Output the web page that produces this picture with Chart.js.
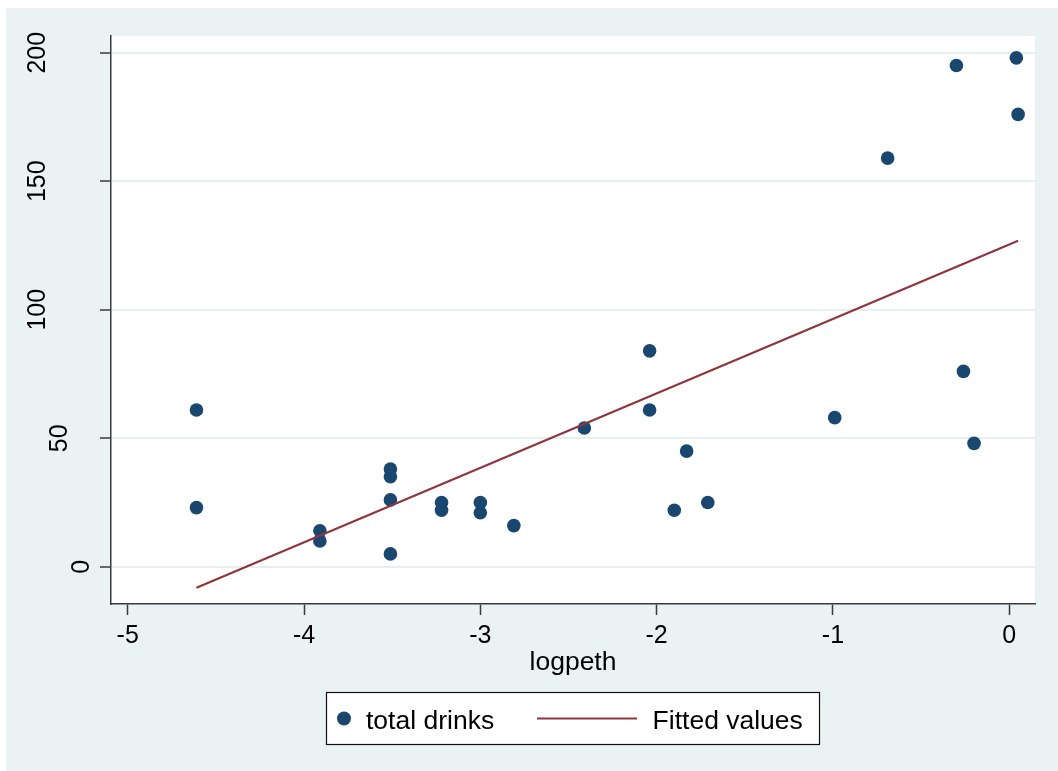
<!DOCTYPE html>
<html>
<head>
<meta charset="utf-8">
<style>
  html, body { margin: 0; padding: 0; background: #ffffff; }
  canvas { display: block; }
</style>
<script src="https://cdn.jsdelivr.net/npm/chart.js@4/dist/chart.umd.min.js"></script>
</head>
<body>
<canvas id="c" width="1058" height="771"></canvas>
<script>
// ---- data ----
const seriesLabels = ['total drinks', 'Fitted values'];
const logpeth = [-4.61, -4.61, -3.91, -3.91, -3.51, -3.51, -3.51, -3.51, -3.22, -3.22,
                 -3.00, -3.00, -2.81, -2.41, -2.04, -2.04, -1.90, -1.83, -1.71, -0.99,
                 -0.69, -0.30, -0.26, -0.20, 0.04, 0.05];
const totalDrinks = [61, 23, 14, 10, 38, 35, 26, 5, 25, 22,
                     25, 21, 16, 54, 84, 61, 22, 45, 25, 58,
                     159, 195, 76, 48, 198, 176];
const fitX = [-4.61, 0.05];
const fitY = [-8.2, 126.8];
const xTicks = [-5, -4, -3, -2, -1, 0];
const yTicks = [0, 50, 100, 150, 200];
const xTitle = 'logpeth';

const FONT = "'Liberation Sans', Arial, Helvetica, sans-serif";
const NAVY = '#1a476f';
const MAROON = '#90353b';
const BG = '#eaf2f3';
const AXIS = '#3a3a3a';

const bgPlugin = {
  id: 'bg',
  beforeDraw(chart) {
    const ctx = chart.ctx, a = chart.chartArea;
    ctx.save();
    ctx.fillStyle = '#ffffff';
    ctx.fillRect(0, 0, chart.width, chart.height);
    ctx.fillStyle = BG;
    ctx.fillRect(6, 8, chart.width - 6, chart.height - 8);
    ctx.fillStyle = '#ffffff';
    ctx.fillRect(a.left, a.top, a.right - a.left, a.bottom - a.top);
    ctx.restore();
  }
};

const yLabelPlugin = {
  id: 'ylabels',
  afterDraw(chart) {
    const ctx = chart.ctx, ys = chart.scales.y;
    ctx.save();
    ctx.fillStyle = '#000';
    ctx.font = '25px ' + FONT;
    ctx.textAlign = 'center';
    ctx.textBaseline = 'alphabetic';
    yTicks.forEach(v => {
      const s = String(v);
      const py = ys.getPixelForValue(v);
      const bx = 111.3 - 22.2 * s.length;
      ctx.save();
      ctx.translate(bx, py);
      ctx.rotate(-Math.PI / 2);
      ctx.fillText(s, 0, 0);
      ctx.restore();
    });
    ctx.restore();
  }
};

const legendPlugin = {
  id: 'boxlegend',
  afterDraw(chart) {
    const ctx = chart.ctx;
    const ds = chart.data.datasets;
    const cy = 718.5;
    ctx.save();
    ctx.fillStyle = '#ffffff';
    ctx.fillRect(326, 692, 493, 52);
    ctx.strokeStyle = '#111';
    ctx.lineWidth = 1.2;
    ctx.strokeRect(326.5, 692.5, 493, 52);
    // marker
    ctx.fillStyle = ds[0].backgroundColor;
    ctx.beginPath();
    ctx.arc(344, cy, 7, 0, Math.PI * 2);
    ctx.fill();
    // line
    ctx.strokeStyle = ds[1].borderColor;
    ctx.lineWidth = 2.2;
    ctx.beginPath();
    ctx.moveTo(537, cy);
    ctx.lineTo(637, cy);
    ctx.stroke();
    ctx.fillStyle = '#000';
    ctx.font = '26.5px ' + FONT;
    ctx.textAlign = 'left';
    ctx.textBaseline = 'alphabetic';
    ctx.fillText(ds[0].label, 366, 728.5);
    ctx.fillText(ds[1].label, 652.6, 728.5);
    ctx.restore();
  }
};

new Chart(document.getElementById('c'), {
  type: 'scatter',
  data: {
    datasets: [
      {
        label: seriesLabels[0],
        data: logpeth.map((x, i) => ({ x: x, y: totalDrinks[i] })),
        backgroundColor: NAVY,
        borderColor: NAVY,
        pointRadius: 6.8,
        pointBorderWidth: 0,
        pointHoverRadius: 6.8,
        order: 2
      },
      {
        label: seriesLabels[1],
        data: fitX.map((x, i) => ({ x: x, y: fitY[i] })),
        showLine: true,
        borderColor: MAROON,
        backgroundColor: MAROON,
        borderWidth: 2.2,
        pointRadius: 0,
        pointHoverRadius: 0,
        order: 1
      }
    ]
  },
  options: {
    responsive: false,
    devicePixelRatio: 1,
    animation: false,
    events: [],
    layout: { padding: { left: 0, top: 36, right: 23, bottom: 67 } },
    plugins: {
      legend: { display: false },
      tooltip: { enabled: false },
      title: { display: false }
    },
    scales: {
      x: {
        type: 'linear',
        min: -5.0947,
        max: 0.1458,
        afterBuildTicks: s => { s.ticks = xTicks.map(v => ({ value: v })); },
        afterFit: s => { s.height = 100; },
        grid: {
          drawOnChartArea: false,
          drawTicks: true,
          tickLength: 11,
          tickColor: AXIS,
          tickWidth: 1.5
        },
        border: { display: true, color: AXIS, width: 1.5 },
        ticks: {
          color: '#000',
          font: { family: FONT, size: 25 },
          padding: 6,
          maxRotation: 0,
          autoSkip: false,
          callback: v => String(v)
        },
        title: {
          display: true,
          text: xTitle,
          color: '#000',
          font: { family: FONT, size: 26.5 },
          padding: { top: 0, bottom: 25.6 }
        }
      },
      y: {
        type: 'linear',
        min: -14.5,
        max: 206.5,
        afterBuildTicks: s => { s.ticks = yTicks.map(v => ({ value: v })); },
        afterFit: s => { s.width = 111; },
        grid: {
          drawOnChartArea: true,
          drawTicks: true,
          color: '#e6eff1',
          lineWidth: 2,
          tickLength: 11,
          tickColor: AXIS,
          tickWidth: 1.5
        },
        border: { display: true, color: AXIS, width: 1.5 },
        ticks: { display: false }
      }
    }
  },
  plugins: [bgPlugin, yLabelPlugin, legendPlugin]
});
</script>
</body>
</html>
